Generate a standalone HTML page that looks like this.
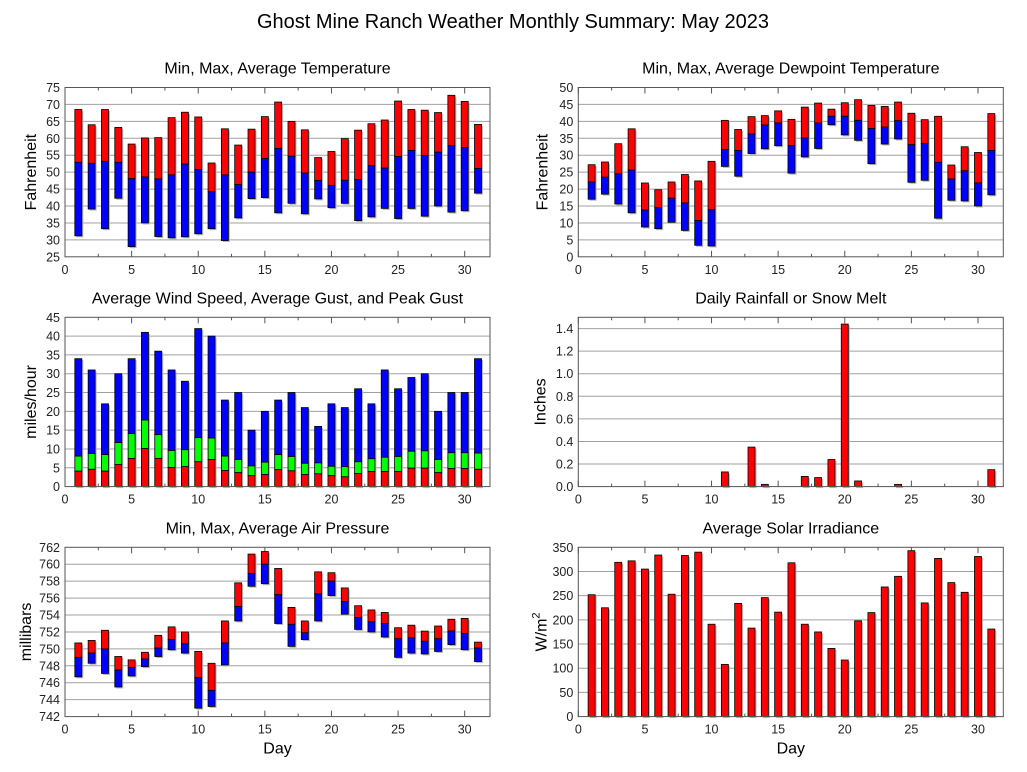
<!DOCTYPE html>
<html><head><meta charset="utf-8"><style>
body{margin:0;background:#fff;}
svg{display:block;font-family:"Liberation Sans",sans-serif;}
</style></head><body>
<svg id="chart" width="1027" height="772" viewBox="0 0 1027 772" xmlns="http://www.w3.org/2000/svg">
<text x="513" y="28" font-size="20" text-anchor="middle" fill="#000">Ghost Mine Ranch Weather Monthly Summary: May 2023</text>
</svg>
<script>
const days = Array.from({length:31},(_,i)=>i+1);
const tempMax=[68.5,64,68.5,63.2,58.3,60.1,60.2,66.1,67.7,66.3,52.7,62.8,58,62.7,66.4,70.7,65,62.5,54.3,56.1,59.9,62.4,64.3,65.4,71,68.5,68.3,67.6,72.7,70.9,64.1];
const tempAvg=[52.9,52.6,53.2,52.9,48.1,48.6,48,49.2,52.4,50.8,44.2,49.2,46.3,50,54,57,54.7,49.7,47.5,46.1,47.6,47.8,51.9,51.2,54.6,56.4,54.9,55.9,57.8,57.3,51.1];
const tempMin=[31.2,39.1,33.3,42.3,28,35,31,30.6,30.9,31.8,33.3,29.8,36.5,42.2,42.5,38,40.8,37.7,42.1,39.5,40.8,35.7,36.8,39.3,36.3,39.3,37,40,38.2,38.6,43.8];
const dewMax=[27.2,28,33.4,37.8,21.8,19.8,22.1,24.3,22.4,28.2,40.3,37.6,41.4,41.7,43.1,40.6,44.2,45.4,43.6,45.5,46.4,44.7,44.4,45.7,42.4,40.5,41.5,27.1,32.5,30.8,42.3];
const dewAvg=[22.1,23.5,24.5,25.6,13.8,14.5,17.3,15.9,10.7,13.9,31.7,31.4,36.3,38.9,39.5,32.9,35.1,39.5,41.5,41.5,40.3,37.9,38.3,40.2,33.1,33.5,27.9,23,25.4,21.8,31.4];
const dewMin=[17,18.5,15.6,13,8.8,8.3,10.2,7.8,3.4,3.2,26.7,23.8,30.5,31.9,32.8,24.7,29.5,32,39,36,34.4,27.5,33.3,34.8,22,22.6,11.4,16.7,16.5,15,18.3];
const windPeak=[34,31,22,30,34,41,36,31,28,42,40,23,25,15,20,23,25,21,16,22,21,26,22,31,26,29,30,20,25,25,34];
const windGust=[8.1,8.8,8.5,11.7,14.1,17.7,13.8,9.6,9.8,13,12.9,8.1,7.2,5.5,6.5,8.5,8,6.2,6.3,5.4,5.3,6.6,7.4,7.8,8,9.4,9.5,7.2,9,9,8.9];
const windAvg=[4.1,4.6,4.1,5.9,7.5,10.1,7.5,5.1,5.3,6.6,7.2,4.3,3.7,2.9,3.2,4.5,4.2,3.2,3.4,2.9,2.6,3.5,4,4,4,4.9,4.9,3.7,4.8,4.8,4.6];
const rain=[0,0,0,0,0,0,0,0,0,0,0.13,0,0.35,0.02,0,0,0.09,0.08,0.24,1.44,0.05,0,0,0.02,0,0,0,0,0,0,0.15];
const presMax=[750.7,751,752.2,749.1,748.7,749.6,751.6,752.6,752,749.7,748.3,753.3,757.8,761.2,761.5,759.5,754.9,753.3,759.1,759,757.2,755.1,754.6,754.3,752.5,752.8,752.1,752.7,753.5,753.6,750.8];
const presAvg=[749,749.5,750,747.5,747.8,748.8,750.1,751.1,750.6,746.6,745.1,750.7,755,758.9,760,756.4,752.9,751.9,756.5,758,755.6,753.7,753.2,753,751.2,751.3,750.9,751.2,752.1,751.8,750.1];
const presMin=[746.7,748.3,747.1,745.5,746.8,747.9,749.1,749.9,749.5,743,743.2,748.1,753.3,757.4,757.7,753,750.3,751.1,753.3,756.3,754.1,752.3,752,751.4,749,749.5,749.4,749.7,750.5,749.9,748.5];
const solar=[252,225,319,322,305,334,253,333,340,191,108,234,183,246,216,318,191,175,141,117,198,215,268,290,343,235,327,277,257,331,181];
const xTicks=[0,5,10,15,20,25,30];
const tempTicks=[25,30,35,40,45,50,55,60,65,70,75];
const dewTicks=[0,5,10,15,20,25,30,35,40,45,50];
const windTicks=[0,5,10,15,20,25,30,35,40,45];
const rainTicks=[0,0.2,0.4,0.6,0.8,1.0,1.2,1.4];
const presTicks=[742,744,746,748,750,752,754,756,758,760,762];
const solarTicks=[0,50,100,150,200,250,300,350];

const svg=document.getElementById('chart');
const NS='http://www.w3.org/2000/svg';
function mk(tag,attrs,parent){const e=document.createElementNS(NS,tag);for(const k in attrs)e.setAttribute(k,attrs[k]);(parent||svg).appendChild(e);return e;}

function panel(o){
  const g=mk('g',{});
  
  
  const L=o.x,T=o.y,W=o.w,H=o.h,XMAX=31.9;
  const sx=v=>L+v/XMAX*W;
  const sy=v=>T+H-(v-o.ymin)/(o.ymax-o.ymin)*H;
  o.ticks.forEach((t,i)=>{
    const y=sy(t);
    if(t!==o.ymin&&t!==o.ymax){const gl=mk('line',{x1:L,x2:L+W,y1:y,y2:y,stroke:'#a0a0a0','stroke-width':1},g);
    
    }
    const tx=mk('text',{x:L-5,y:y+4.5,'font-size':12.5,'text-anchor':'end',fill:'#222'},g);
    
    
    tx.textContent=o.fmt?o.fmt(t):t;
  });
  for(let v=0;v<=30;v+=2.5){
    const x=sx(v),len=(v%5===0)?6:3;
    mk('line',{x1:x,x2:x,y1:T,y2:T+len,stroke:'#555'},g);
    mk('line',{x1:x,x2:x,y1:T+H,y2:T+H-len,stroke:'#555'},g);
  }
  xTicks.forEach(t=>{
    const tx=mk('text',{x:sx(t),y:T+H+17,'font-size':12.5,'text-anchor':'middle',fill:'#222'},g);
    
    
    tx.textContent=t;
  });
  const bw=7;
  function bar(d,lo,hi,color,nm){
    const y1=sy(hi),y0=sy(lo);
    if(y0-y1<0.3)return;
    const s=mk('rect',{x:sx(d)-bw/2+1.5,y:y1+1.5,width:bw,height:y0-y1,fill:'#b8b8b8'},g);
    
    
    const r=mk('rect',{x:sx(d)-bw/2,y:y1,width:bw,height:y0-y1,fill:color,stroke:'#000','stroke-width':0.8},g);
    
    
  }
  o.draw(bar);
  const fr=mk('rect',{x:L,y:T,width:W,height:H,fill:'none',stroke:'#555','stroke-width':1},g);
  
  
  const ti=mk('text',{x:L+W/2,y:T-14,'font-size':16,'text-anchor':'middle',fill:'#000'},g);
  
  
  ti.textContent=o.title;
  const yl=mk('text',{x:0,y:0,'font-size':16,'text-anchor':'middle',fill:'#000',transform:`translate(${L-o.yoff},${T+H/2}) rotate(-90)`},g);
  
  
  if(o.ylabelHTML){yl.innerHTML=o.ylabelHTML;}else yl.textContent=o.ylabel;
  if(o.xlabel){const xl=mk('text',{x:L+W/2,y:T+H+37,'font-size':16,'text-anchor':'middle',fill:'#000'},g);
    
    
    xl.textContent='Day';}
}
const LX=65,RX=578.3,W=425,H=169.3;
panel({name:'temperature-panel',x:LX,y:87.5,w:W,h:H,ymin:25,ymax:75,ticks:tempTicks,yoff:29,title:'Min, Max, Average Temperature',ylabel:'Fahrenheit',
  draw:bar=>days.forEach((d,i)=>{bar(d,tempAvg[i],tempMax[i],'#ff0000','temp-max-bar');bar(d,tempMin[i],tempAvg[i],'#0000ff','temp-min-bar');})});
panel({name:'dewpoint-panel',x:RX,y:87.5,w:W,h:H,ymin:0,ymax:50,ticks:dewTicks,yoff:31,title:'Min, Max, Average Dewpoint Temperature',ylabel:'Fahrenheit',
  draw:bar=>days.forEach((d,i)=>{bar(d,dewAvg[i],dewMax[i],'#ff0000','dew-max-bar');bar(d,dewMin[i],dewAvg[i],'#0000ff','dew-min-bar');})});
panel({name:'wind-panel',x:LX,y:317.3,w:W,h:H,ymin:0,ymax:45,ticks:windTicks,yoff:29,title:'Average Wind Speed, Average Gust, and Peak Gust',ylabel:'miles/hour',
  draw:bar=>days.forEach((d,i)=>{bar(d,windGust[i],windPeak[i],'#0000ff','wind-peak-bar');bar(d,windAvg[i],windGust[i],'#00ff00','wind-gust-bar');bar(d,0,windAvg[i],'#ff0000','wind-avg-bar');})});
panel({name:'rainfall-panel',x:RX,y:317.3,w:W,h:H,ymin:0,ymax:1.5,ticks:rainTicks,yoff:33,fmt:t=>t.toFixed(1),title:'Daily Rainfall or Snow Melt',ylabel:'Inches',
  draw:bar=>days.forEach((d,i)=>bar(d,0,rain[i],'#ff0000','rain-bar'))});
panel({name:'pressure-panel',x:LX,y:547.3,w:W,h:H,ymin:742,ymax:762,ticks:presTicks,yoff:34,title:'Min, Max, Average Air Pressure',ylabel:'millibars',xlabel:true,
  draw:bar=>days.forEach((d,i)=>{bar(d,presAvg[i],presMax[i],'#ff0000','pres-max-bar');bar(d,presMin[i],presAvg[i],'#0000ff','pres-min-bar');})});
panel({name:'solar-panel',x:RX,y:547.3,w:W,h:H,ymin:0,ymax:350,ticks:solarTicks,yoff:32,title:'Average Solar Irradiance',ylabelHTML:'W/m<tspan dy="-7" font-size="11">2</tspan>',xlabel:true,
  draw:bar=>days.forEach((d,i)=>bar(d,0,solar[i],'#ff0000','solar-bar'))});
</script>
</body></html>
